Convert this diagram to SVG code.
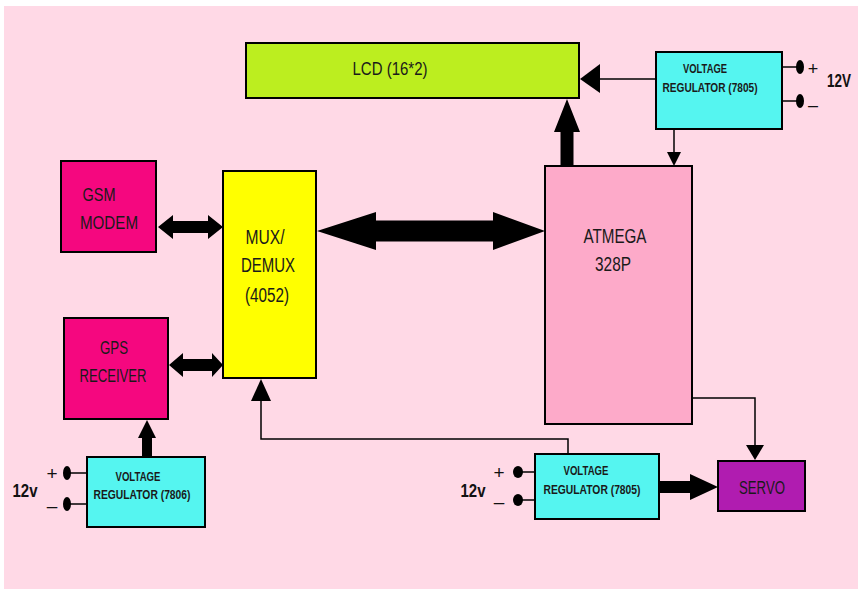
<svg xmlns="http://www.w3.org/2000/svg" width="858" height="589" viewBox="0 0 858 589">
<defs>
<style>
.box{stroke:#000;stroke-width:2}
.t{font-family:"Liberation Sans",Arial,sans-serif;fill:#1a1a1a;text-anchor:middle}
.vr{font-family:"Liberation Sans",Arial,sans-serif;font-weight:bold;font-size:12px;fill:#1a1a1a;text-anchor:middle}
.thin{fill:none;stroke:#000;stroke-width:1.5}
.head{fill:#000}
.term{stroke:#000;stroke-width:1.5}
.lbl{font-family:"Liberation Sans",Arial,sans-serif;font-weight:bold;fill:#111}
.pm{font-family:"Liberation Sans",Arial,sans-serif;fill:#111;text-anchor:middle}
</style>
</defs>
<rect x="0" y="0" width="858" height="589" fill="#ffffff"/>
<rect x="4" y="6" width="854" height="583" fill="#ffd9e6"/>

<g id="lcd">
<rect class="box" x="246" y="43" width="333" height="55" fill="#bcee1f"/>
<text class="t" x="390" y="75" font-size="19" textLength="75" lengthAdjust="spacingAndGlyphs">LCD (16*2)</text>
</g>

<g id="vr-top">
<rect class="box" x="656" y="52" width="126" height="77" fill="#55f5f0"/>
<text class="vr" x="705" y="73" textLength="44" lengthAdjust="spacingAndGlyphs">VOLTAGE</text>
<text class="vr" x="710" y="92" textLength="95" lengthAdjust="spacingAndGlyphs">REGULATOR  (7805)</text>
<line class="term" x1="782" y1="67" x2="798" y2="67"/>
<line class="term" x1="782" y1="101" x2="798" y2="101"/>
<ellipse cx="800" cy="67" rx="4" ry="7" fill="#000"/>
<ellipse cx="800" cy="101" rx="4" ry="7" fill="#000"/>
<text class="pm" x="813" y="75" font-size="18">+</text>
<text class="pm" x="813" y="111" font-size="18">–</text>
<text class="lbl" x="827" y="87" font-size="18" textLength="24" lengthAdjust="spacingAndGlyphs">12V</text>
</g>

<g id="gsm">
<rect class="box" x="61" y="161" width="95" height="91" fill="#f5077f"/>
<text class="t" x="99" y="201" font-size="19" textLength="33" lengthAdjust="spacingAndGlyphs">GSM</text>
<text class="t" x="109" y="229" font-size="19" textLength="58" lengthAdjust="spacingAndGlyphs">MODEM</text>
</g>

<g id="mux">
<rect class="box" x="223" y="171" width="93" height="207" fill="#ffff00"/>
<text class="t" x="265" y="244" font-size="20" textLength="39" lengthAdjust="spacingAndGlyphs">MUX/</text>
<text class="t" x="268" y="272" font-size="20" textLength="54" lengthAdjust="spacingAndGlyphs">DEMUX</text>
<text class="t" x="267" y="302" font-size="20" textLength="44" lengthAdjust="spacingAndGlyphs">(4052)</text>
</g>

<g id="atmega">
<rect class="box" x="545" y="166" width="147" height="258" fill="#fdaac9"/>
<text class="t" x="615" y="243" font-size="20" textLength="63" lengthAdjust="spacingAndGlyphs">ATMEGA</text>
<text class="t" x="613" y="271" font-size="20" textLength="36" lengthAdjust="spacingAndGlyphs">328P</text>
</g>

<g id="gps">
<rect class="box" x="64" y="318" width="104" height="101" fill="#f5077f"/>
<text class="t" x="114" y="354" font-size="19" textLength="28" lengthAdjust="spacingAndGlyphs">GPS</text>
<text class="t" x="113" y="382" font-size="19" textLength="67" lengthAdjust="spacingAndGlyphs">RECEIVER</text>
</g>

<g id="vr-left">
<rect class="box" x="87" y="457" width="118" height="70" fill="#55f5f0"/>
<text class="vr" x="138" y="481" textLength="45" lengthAdjust="spacingAndGlyphs">VOLTAGE</text>
<text class="vr" x="142" y="499" textLength="97" lengthAdjust="spacingAndGlyphs">REGULATOR  (7806)</text>
<line class="term" x1="67" y1="473" x2="87" y2="473"/>
<line class="term" x1="67" y1="504" x2="87" y2="504"/>
<ellipse cx="67" cy="473" rx="4" ry="7" fill="#000"/>
<ellipse cx="67" cy="504" rx="4" ry="7" fill="#000"/>
<text class="pm" x="52" y="480" font-size="19">+</text>
<text class="pm" x="52" y="512" font-size="19">–</text>
<text class="lbl" x="25" y="497" font-size="18" text-anchor="middle" textLength="25" lengthAdjust="spacingAndGlyphs">12v</text>
</g>

<g id="vr-bottom">
<rect class="box" x="535" y="454" width="124" height="65" fill="#55f5f0"/>
<text class="vr" x="586" y="475" textLength="45" lengthAdjust="spacingAndGlyphs">VOLTAGE</text>
<text class="vr" x="592" y="494" textLength="97" lengthAdjust="spacingAndGlyphs">REGULATOR  (7805)</text>
<line class="term" x1="518" y1="472" x2="535" y2="472"/>
<line class="term" x1="518" y1="500" x2="535" y2="500"/>
<ellipse cx="518" cy="472" rx="5" ry="6" fill="#000"/>
<ellipse cx="518" cy="500" rx="5" ry="6" fill="#000"/>
<text class="pm" x="499" y="479" font-size="19">+</text>
<text class="pm" x="499" y="508" font-size="19">–</text>
<text class="lbl" x="473" y="497" font-size="18" text-anchor="middle" textLength="25" lengthAdjust="spacingAndGlyphs">12v</text>
</g>

<g id="servo">
<rect class="box" x="718" y="461" width="87" height="50" fill="#b01cb0"/>
<text class="t" x="762" y="494" font-size="19" textLength="46" lengthAdjust="spacingAndGlyphs">SERVO</text>
</g>

<g id="connectors">
<polygon class="head" points="317,231 376,212 376,220.5 493,220.5 493,212 545,231 493,250 493,241.5 376,241.5 376,250"/>
<polygon class="head" points="158,227 173,215 173,221 208,221 208,215 223,227 208,239 208,233 173,233 173,239"/>
<polygon class="head" points="169,365 183,353 183,359 212,359 212,353 223,365 212,377 212,371 183,371 183,377"/>
<polygon class="head" points="567,99 580,132 573.5,132 573.5,166 560.5,166 560.5,132 554,132"/>
<polygon class="head" points="147,420 156,438 152,438 152,457 142,457 142,438 138,438"/>
<polygon class="head" points="659,481 690,481 690,474 718,487 690,500 690,493 659,493"/>
<line class="thin" x1="656" y1="79" x2="598" y2="79"/>
<polygon class="head" points="580,79 600,64 600,93"/>
<line class="thin" x1="674" y1="129" x2="674" y2="154"/>
<polygon class="head" points="674,166 667,152 681,152"/>
<polyline class="thin" points="692,398 755,398 755,447"/>
<polygon class="head" points="755,460 746,445 764,445"/>
<polyline class="thin" points="568,454 568,439 261,439 261,399"/>
<polygon class="head" points="261,379 251,401 271,401"/>
</g>
</svg>
